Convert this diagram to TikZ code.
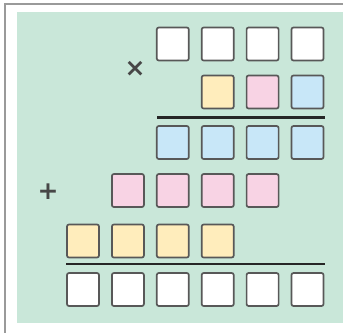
\documentclass[tikz,border=0pt]{standalone}
\usepackage{fontspec}
\newfontfamily\symfont{DejaVu Sans}
\definecolor{bggreen}{HTML}{C9E7D9}
\definecolor{sqyellow}{HTML}{FFEDBC}
\definecolor{sqpink}{HTML}{F8D3E4}
\definecolor{sqblue}{HTML}{C8E7F8}
\definecolor{sqedge}{HTML}{585858}
\definecolor{framegray}{HTML}{9A9A9A}
\begin{document}
\begin{tikzpicture}[x=1pt,y=-1pt,
  sq/.style={draw=sqedge, line width=1.7pt, rounded corners=2pt, minimum width=32pt, minimum height=33pt, inner sep=0pt, fill=white},
  rule/.style={line width=3pt, draw=black!85},
  opsym/.style={text=black!72, font=\symfont\bfseries\fontsize{25}{25}\selectfont, inner sep=0pt}]
\useasboundingbox (0,0) rectangle (343,333);
\fill[bggreen] (17,12) rectangle (343,323);
\draw[framegray, line width=2pt] (343,4) -- (5,4) -- (5,333);
% columns
\def\ca{83}\def\cb{127.9}\def\cc{172.8}\def\cd{217.7}\def\ce{262.6}\def\cf{307.5}
% row 1
\node[sq] (r1c3) at (\cc,44) {};
\node[sq] (r1c4) at (\cd,44) {};
\node[sq] (r1c5) at (\ce,44) {};
\node[sq] (r1c6) at (\cf,44) {};
% row 2
\node[sq, fill=sqyellow] (r2c4) at (\cd,92) {};
\node[sq, fill=sqpink] (r2c5) at (\ce,92) {};
\node[sq, fill=sqblue] (r2c6) at (\cf,92) {};
\node[opsym] (times) at (135,69) {×};
% rule 1
\coordinate (l1a) at (157,117);
\coordinate (l1b) at (325,117);
\draw[rule] (l1a) -- (l1b);
% row 3
\node[sq, fill=sqblue] (r3c3) at (\cc,142.5) {};
\node[sq, fill=sqblue] (r3c4) at (\cd,142.5) {};
\node[sq, fill=sqblue] (r3c5) at (\ce,142.5) {};
\node[sq, fill=sqblue] (r3c6) at (\cf,142.5) {};
% row 4
\node[opsym] (plus) at (48,192) {+};
\node[sq, fill=sqpink] (r4c2) at (\cb,190.5) {};
\node[sq, fill=sqpink] (r4c3) at (\cc,190.5) {};
\node[sq, fill=sqpink] (r4c4) at (\cd,190.5) {};
\node[sq, fill=sqpink] (r4c5) at (\ce,190.5) {};
% row 5
\node[sq, fill=sqyellow] (r5c1) at (\ca,241) {};
\node[sq, fill=sqyellow] (r5c2) at (\cb,241) {};
\node[sq, fill=sqyellow] (r5c3) at (\cc,241) {};
\node[sq, fill=sqyellow] (r5c4) at (\cd,241) {};
% rule 2
\coordinate (l2a) at (66,264);
\coordinate (l2b) at (325,264);
\draw[rule, line width=2.3pt] (l2a) -- (l2b);
% row 6
\node[sq] (r6c1) at (\ca,289.5) {};
\node[sq] (r6c2) at (\cb,289.5) {};
\node[sq] (r6c3) at (\cc,289.5) {};
\node[sq] (r6c4) at (\cd,289.5) {};
\node[sq] (r6c5) at (\ce,289.5) {};
\node[sq] (r6c6) at (\cf,289.5) {};
\end{tikzpicture}
\end{document}
